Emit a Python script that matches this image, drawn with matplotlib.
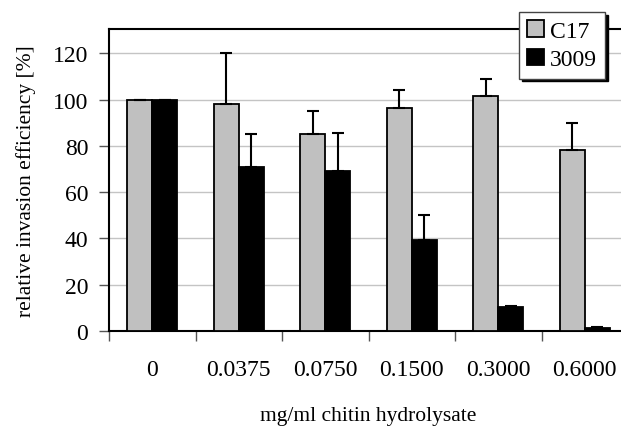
import matplotlib
matplotlib.use("Agg")
import matplotlib.pyplot as plt
import numpy as np

categories = ["0", "0.0375", "0.0750", "0.1500", "0.3000", "0.6000"]
c17 = [100, 98, 85, 96.5, 101.5, 78]
c17_err = [0, 22, 10, 7.5, 7.5, 12]
s3009 = [100, 71, 69, 39.5, 10.5, 1.3]
s3009_err = [0, 14, 16.5, 10.5, 0.5, 0.3]
yticks = [0, 20, 40, 60, 80, 100, 120]

plt.rcParams['font.family'] = ['Liberation Serif', 'DejaVu Serif']

W, H = 621, 427
fig = plt.figure(figsize=(W/100, H/100), dpi=100)
left, right, top, bottom = 109, 628, 30, 332
ax = fig.add_axes([left/W, 1-bottom/H, (right-left)/W, (bottom-top)/H])

x = np.arange(len(categories)) + 0.5
bw = 0.29
ax.bar(x - bw/2, c17, bw, color="#c0c0c0", edgecolor="black", linewidth=1.3,
       label="C17", zorder=3)
ax.bar(x + bw/2, s3009, bw, color="black", edgecolor="black", linewidth=1.3,
       label="3009", zorder=3)
ax.errorbar(x - bw/2, c17, yerr=[np.zeros(len(c17)), c17_err], fmt="none",
            ecolor="black", elinewidth=1.5, capsize=4, capthick=1.5, zorder=4)
ax.errorbar(x + bw/2, s3009, yerr=[np.zeros(len(s3009)), s3009_err], fmt="none",
            ecolor="black", elinewidth=1.5, capsize=4, capthick=1.5, zorder=4)

ax.set_xlim(0, len(categories))
ax.set_ylim(0, 130.5)
ax.set_yticks(yticks)
ax.set_yticklabels([str(v) for v in yticks], fontsize=17)
ax.yaxis.grid(True, color="#c4c4c4", linewidth=1.0, zorder=0)
ax.set_axisbelow(True)

ax.set_xticks(np.arange(len(categories)+1), minor=False)
ax.set_xticklabels([""] * (len(categories)+1))
ax.set_xticks(x, minor=True)
ax.set_xticklabels(categories, minor=True, fontsize=17)
ax.tick_params(axis="x", which="major", direction="out", length=7, width=1, color="#555555")
ax.tick_params(axis="x", which="minor", length=0, pad=20)
ax.tick_params(axis="y", direction="out", length=7, width=1, color="#555555", pad=8)

for s in ax.spines.values():
    s.set_linewidth(1.5)
    s.set_color("black")

ax.set_ylabel("relative invasion efficiency [%]", fontsize=15.5, labelpad=12)
ax.set_xlabel("mg/ml chitin hydrolysate", fontsize=15.5, labelpad=19)

leg = ax.legend(loc="upper right", bbox_to_anchor=(605/W, 1-13/H),
                bbox_transform=fig.transFigure, borderaxespad=0,
                fontsize=17, frameon=True, fancybox=False,
                shadow={"color": "black", "alpha": 1},
                handlelength=0.7, handleheight=0.7, handletextpad=0.25,
                labelspacing=0.3, borderpad=0.35)
leg.get_frame().set_edgecolor("#444444")
leg.get_frame().set_linewidth(1.0)
leg.get_frame().set_alpha(1)

fig.savefig("out.png", dpi=100)
